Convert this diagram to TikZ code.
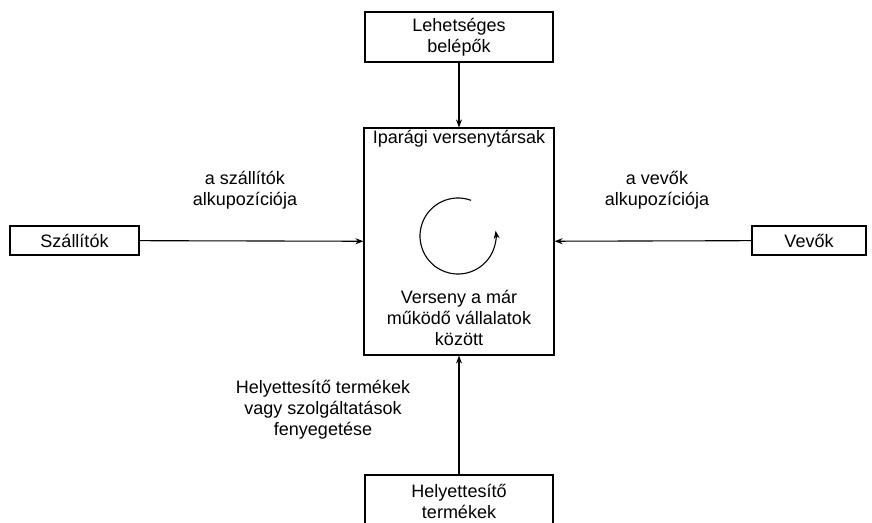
\documentclass[tikz,border=0pt]{standalone}
\usepackage{fontspec}
\setmainfont{Liberation Sans}
\usetikzlibrary{arrows.meta}
\begin{document}
\begin{tikzpicture}[x=1pt,y=-1pt,
  box/.style={draw,line width=1.1pt,inner sep=0pt},
  lbl/.style={align=center,inner sep=0pt,font=\fontsize{18}{21}\selectfont},
  conn/.style={line width=1.1pt,-{Stealth[length=8pt,width=6pt]}}]
\useasboundingbox (0,0) rectangle (872,522);
\begin{scope}
\clip (0,0) rectangle (872,522);
\node[box,minimum width=188pt,minimum height=50pt] (entr) at (459,37) {};
\node[box,minimum width=190pt,minimum height=227pt] (comp) at (459,241.5) {};
\node[box,minimum width=129pt,minimum height=29pt] (supp) at (74.5,240.5) {};
\node[box,minimum width=114pt,minimum height=29pt] (buy) at (809,240.5) {};
\node[box,minimum width=188pt,minimum height=70pt] (subs) at (459,510) {};
\end{scope}
\node[lbl] (tEntr) at (459,37) {Lehetséges\\belépők};
\node[lbl] (tComp) at (459,139) {Iparági versenytársak};
\node[lbl] (tRiv) at (459,318) {Verseny a már\\működő vállalatok\\között};
\node[lbl] (tSupp) at (74.5,240.5) {Szállítók};
\node[lbl] (tBuy) at (809,240.5) {Vevők};
\node[lbl] (tSubs) at (459,501) {Helyettesítő\\termékek};
\node[lbl] (lSupp) at (245,190) {a szállítók\\alkupozíciója};
\node[lbl] (lBuy) at (657,190) {a vevők\\alkupozíciója};
\node[lbl] (lSubs) at (323,410) {Helyettesítő termékek\\vagy szolgáltatások\\fenyegetése};
\draw[conn] (entr) -- (comp);
\draw[conn] (supp) -- (comp);
\draw[conn] (buy) -- (comp);
\draw[conn] (subs.north) -- (comp.south);
\coordinate (cc) at (458,236);
\draw[line width=1.1pt,-{Stealth[length=8pt,width=6pt]}] (cc) ++(70:38pt) arc[start angle=70,end angle=368,radius=38pt];
\end{tikzpicture}
\end{document}
